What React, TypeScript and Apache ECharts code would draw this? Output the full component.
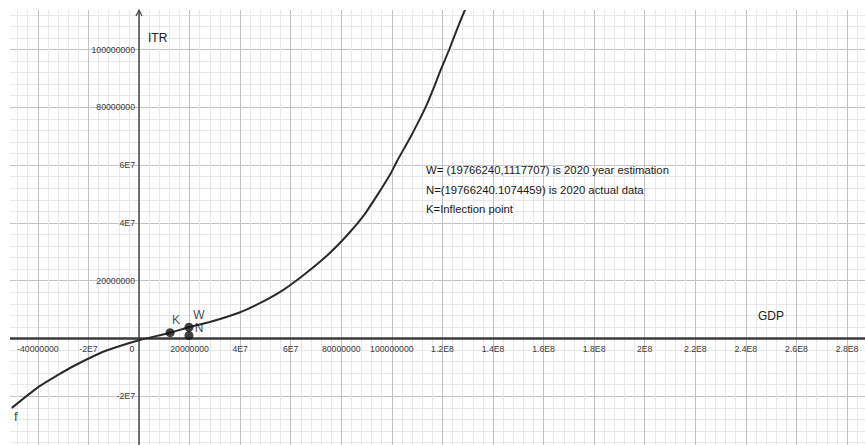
import React, { useEffect, useRef } from 'react';
import * as echarts from 'echarts';

// ---- data ----
const curveGDP = [-5.03e7, -4.0e7, -3.2e7, -2.6e7, -1.55e7, -1.0e7, 0, 1.23e7, 1.96e7, 2.8e7, 4.0e7, 4.8e7, 5.6e7, 6.5e7, 7.45e7, 8.24e7, 8.9e7, 9.43e7, 9.96e7, 1.023e8, 1.075e8, 1.135e8, 1.168e8, 1.194e8, 1.227e8, 1.26e8, 1.29e8];
const curveITR = [-2.4e7, -1.69e7, -1.26e7, -9.6e6, -5.1e6, -3.3e6, -6e5, 2.0e6, 3.9e6, 5.7e6, 9.1e6, 1.23e7, 1.62e7, 2.19e7, 2.88e7, 3.58e7, 4.27e7, 4.97e7, 5.72e7, 6.18e7, 6.99e7, 8.03e7, 8.72e7, 9.31e7, 1.0e8, 1.075e8, 1.139e8];

const pointNames = ['K', 'W', 'N'];
const pointGDP = [1.23e7, 19766240, 19766240];
const pointITR = [2.0e6, 3.9e6, 1074459];

const xTickValues = [-4e7, -2e7, 0, 2e7, 4e7, 6e7, 8e7, 1e8, 1.2e8, 1.4e8, 1.6e8, 1.8e8, 2e8, 2.2e8, 2.4e8, 2.6e8, 2.8e8];
const xTickLabels = ['-40000000', '-2E7', '0', '20000000', '4E7', '6E7', '80000000', '100000000', '1.2E8', '1.4E8', '1.6E8', '1.8E8', '2E8', '2.2E8', '2.4E8', '2.6E8', '2.8E8'];
const yTickValues = [-2e7, 2e7, 4e7, 6e7, 8e7, 1e8];
const yTickLabels = ['-2E7', '20000000', '4E7', '6E7', '80000000', '100000000'];

const curveName = 'f';
const xAxisTitle = 'GDP';
const yAxisTitle = 'ITR';
const noteLines = [
  'W= (19766240,1117707) is 2020 year estimation',
  'N=(19766240.1074459) is 2020 actual data',
  'K=Inflection point',
];

// ---- styles / layout ----
const FONT = '"Liberation Sans", Arial, sans-serif';
const labelOffsets: Record<string, number[]> = { K: [6, -13], W: [10, -12], N: [10, -7] };

const X_MIN = -6e7, X_MAX = 3e8, Y_MIN = -4e7, Y_MAX = 1.2e8;
const G_LEFT = -12.71, G_TOP = -8.3, G_W = 910.26, G_H = 462.4;
const ZERO_X = G_LEFT + ((0 - X_MIN) / (X_MAX - X_MIN)) * G_W;
const ZERO_Y = G_TOP + ((Y_MAX - 0) / (Y_MAX - Y_MIN)) * G_H;

function lookup(values: number[], labels: string[], v: number): string {
  for (let i = 0; i < values.length; i++) {
    if (Math.abs(values[i] - v) < 1) return labels[i];
  }
  return '';
}

export default function App() {
  const ref = useRef<HTMLDivElement>(null);

  useEffect(() => {
    if (!ref.current) return;
    const chart = echarts.init(ref.current, undefined, { renderer: 'svg' });

    const curveData = curveGDP.map((x, i) => [x, curveITR[i]]);
    const pointData = pointNames.map((n, i) => ({
      name: n,
      value: [pointGDP[i], pointITR[i]],
      label: { offset: labelOffsets[n] },
    }));

    const option: any = {
      animation: false,
      backgroundColor: '#ffffff',
      grid: {
        left: G_LEFT,
        top: G_TOP,
        width: G_W,
        height: G_H,
        containLabel: false,
        outerBoundsMode: 'none',
      },
      xAxis: {
        type: 'value',
        min: X_MIN,
        max: X_MAX,
        interval: 2e7,
        position: 'bottom',
        offset: -(G_TOP + G_H - ZERO_Y),
        axisLine: { onZero: false, lineStyle: { color: '#3a3a3a', width: 2.5 } },
        axisTick: { show: false },
        axisLabel: {
          fontSize: 8.7,
          fontFamily: FONT,
          color: '#3a3a3a',
          margin: 6,
          showMinLabel: true,
          showMaxLabel: true,
          formatter: (v: number) => {
            if (Math.abs(v) < 1) return '{z|0}';
            return lookup(xTickValues, xTickLabels, v);
          },
          rich: { z: { fontSize: 8.7, fontFamily: FONT, color: '#3a3a3a', padding: [0, 14, 0, 0] } },
        },
        splitLine: { show: true, lineStyle: { color: '#c2c2c2', width: 1 } },
        minorTick: { show: false, splitNumber: 5 },
        minorSplitLine: { show: true, lineStyle: { color: '#e8e8e8', width: 1 } },
      },
      yAxis: {
        type: 'value',
        min: Y_MIN,
        max: Y_MAX,
        interval: 2e7,
        position: 'left',
        offset: -(ZERO_X - G_LEFT),
        axisLine: { onZero: false, lineStyle: { color: '#4a4a4a', width: 1.5 } },
        axisTick: { show: false },
        axisLabel: {
          fontSize: 8.7,
          fontFamily: FONT,
          color: '#3a3a3a',
          margin: 4,
          formatter: (v: number) => lookup(yTickValues, yTickLabels, v),
        },
        splitLine: { show: true, lineStyle: { color: '#c2c2c2', width: 1 } },
        minorTick: { show: false, splitNumber: 5 },
        minorSplitLine: { show: true, lineStyle: { color: '#e8e8e8', width: 1 } },
      },
      series: [
        {
          type: 'line',
          name: curveName,
          data: curveData,
          smooth: 0.2,
          showSymbol: false,
          lineStyle: { color: '#2a2a2a', width: 2 },
          z: 3,
        },
        {
          type: 'scatter',
          data: [{ value: curveData[0] }],
          symbolSize: 1,
          itemStyle: { color: 'rgba(0,0,0,0)' },
          label: {
            show: true,
            formatter: curveName,
            position: 'inside',
            offset: [4, 9],
            fontSize: 13,
            fontFamily: FONT,
            color: '#111',
          },
          z: 4,
        },
        {
          type: 'scatter',
          data: pointData,
          symbolSize: 9,
          itemStyle: { color: '#111111' },
          label: {
            show: true,
            formatter: '{b}',
            position: 'inside',
            fontSize: 12,
            fontFamily: FONT,
            color: '#111',
          },
          z: 5,
        },
      ],
    };
    chart.setOption(option);

    const origin = chart.convertToPixel({ gridIndex: 0 }, [0, 0]) as number[];
    const ax = origin[0];

    const noteFont = `11.3px ${FONT}`;
    const graphic: any[] = [
      { type: 'rect', shape: { x: 0, y: 0, width: 10, height: 445 }, style: { fill: '#ffffff' }, z: 100 },
      { type: 'rect', shape: { x: 0, y: 0, width: 865, height: 10 }, style: { fill: '#ffffff' }, z: 100 },
      {
        type: 'polyline',
        shape: { points: [[ax - 3, 16], [ax, 10], [ax + 3, 16]] },
        style: { stroke: '#444', lineWidth: 1.2, fill: 'none' },
        z: 101,
      },
      {
        type: 'text',
        x: ax + 9,
        y: 37.5,
        style: { text: yAxisTitle, font: `12px ${FONT}`, fill: '#222', verticalAlign: 'middle' },
        z: 101,
      },
      {
        type: 'text',
        x: 758,
        y: 316,
        style: { text: xAxisTitle, font: `12px ${FONT}`, fill: '#222', verticalAlign: 'middle' },
        z: 101,
      },
      ...noteLines.map((t, i) => ({
        type: 'text',
        x: 426,
        y: 170 + i * 19.5,
        style: { text: t, font: noteFont, fill: '#1a1a1a', verticalAlign: 'middle' },
        z: 101,
      })),
    ];
    chart.setOption({ graphic });

    return () => chart.dispose();
  }, []);

  return (
    <div
      ref={ref}
      style={{ position: 'fixed', left: 0, top: 0, width: 865, height: 445, background: '#fff' }}
    />
  );
}
